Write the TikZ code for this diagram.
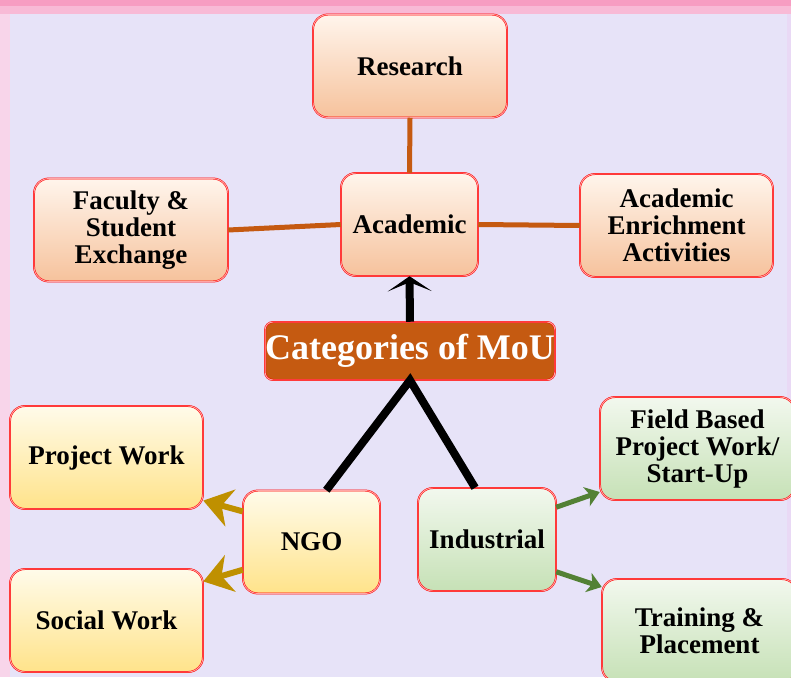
\documentclass[tikz,border=0pt]{standalone}
\usepackage{fontspec}
\setmainfont{Liberation Serif}
\usetikzlibrary{arrows.meta}

\definecolor{bgLila}{HTML}{E7E3F8}
\definecolor{pinkDunkel}{HTML}{F79DC2}
\definecolor{pinkHell}{HTML}{F8BAD6}
\definecolor{pinkLinks}{HTML}{F8D5EA}
\definecolor{lilaRand}{HTML}{E9D9F5}
\definecolor{orOben}{HTML}{FFF5EC}
\definecolor{orUnten}{HTML}{F6C29C}
\definecolor{geOben}{HTML}{FFFBEA}
\definecolor{geUnten}{HTML}{FFE38A}
\definecolor{grOben}{HTML}{F2F8EE}
\definecolor{grUnten}{HTML}{C6E1B6}
\definecolor{rostbraun}{HTML}{C55A11}
\definecolor{senfgelb}{HTML}{BF9000}
\definecolor{olivgruen}{HTML}{538135}

\begin{document}
\begin{tikzpicture}[%show background rectangle,
        x=1pt, y=-1pt,
        font=\bfseries\fontsize{27}{27}\selectfont,
        kasten/.style={draw=red, double=red!35, double distance=0.9pt,
            line width=0.5pt, rounded corners=15pt, align=center,
            inner sep=0pt, minimum height=103pt},
        orange/.style={kasten, top color=orOben, bottom color=orUnten},
        gelb/.style={kasten, top color=geOben, bottom color=geUnten},
        gruen/.style={kasten, top color=grOben, bottom color=grUnten},
        linie/.style={draw=rostbraun, line width=5pt},
        >=Stealth % Voreinstellung für Pfeilspitzen
        ]
            \useasboundingbox (0,0) rectangle (791,677);

            % Hintergrund
            \fill [bgLila]      (0,0) rectangle (791,677);
            \fill [lilaRand]    (787,0) rectangle (791,677);
            \fill [pinkLinks]   (0,0) rectangle (10,677);
            \fill [pinkHell]    (0,0) rectangle (791,14);
            \fill [pinkDunkel]  (0,0) rectangle (791,6);

            % Kästen
            \node [orange, minimum width=194pt] (Res)   at (410,66)    {Research};
            \node [orange, minimum width=137pt] (Acad)  at (409.5,224.5) {Academic};
            \node [orange, minimum width=194pt] (Fac)   at (131,230) {Faculty \&\\Student\\Exchange};
            \node [orange, minimum width=193pt] (Enr)   at (676.5,225.5) {Academic\\Enrichment\\Activities};

            \node [kasten, fill=rostbraun, text=white, minimum width=288pt,
                   minimum height=58pt, rounded corners=8pt,
                   font=\bfseries\fontsize{36}{36}\selectfont] (MoU) at (410,351) {Categories of MoU};

            \node [gelb, minimum width=193pt]  (Proj)  at (106.5,457.5) {Project Work};
            \node [gelb, minimum width=193pt]  (Soc)   at (106.5,620.5) {Social Work};
            \node [gelb, minimum width=137pt]  (NGO)   at (311.5,542)   {NGO};

            \node [gruen, minimum width=138pt] (Ind)   at (487,539.5)   {Industrial};
            \node [gruen, minimum width=195pt] (Field) at (697.5,448.5) {Field Based\\Project Work/\\Start-Up};
            \node [gruen, minimum width=195pt] (Train) at (699.5,630.5) {Training \&\\Placement};

            % Verbindungen
            \draw [linie]   (Res.south) -- (Acad.north)
                            (Fac.east)  -- (Acad.west)
                            (Acad.east) -- (Enr.west);

            \draw [line width=8pt, -{Stealth[length=15pt,width=44pt,inset=9pt]}]
                            (MoU.north) -- (Acad.south);
            \draw [line width=8pt]  (NGO.74)  -- (MoU.south)
                                    -- (Ind.103);

            \draw [senfgelb, line width=6pt, -{Stealth[length=28pt,width=38pt,inset=9pt]}]
                            (NGO.156) -- (Proj.-24);
            \draw [senfgelb, line width=6pt, -{Stealth[length=28pt,width=38pt,inset=9pt]}]
                            (NGO.202) -- (Soc.22);

            \draw [olivgruen, line width=5pt, -{Stealth[length=14pt,width=20pt,inset=4pt]}]
                            (Ind.25) -- (Field.204);
            \draw [olivgruen, line width=5pt, -{Stealth[length=14pt,width=20pt,inset=4pt]}]
                            (Ind.-25) -- (Train.156);

        \end{tikzpicture}
\end{document}
